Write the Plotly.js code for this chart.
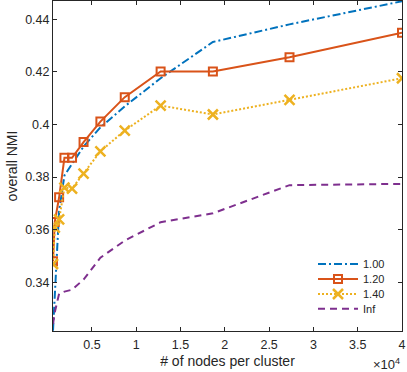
<!DOCTYPE html>
<html>
<head>
<meta charset="utf-8">
<script src="https://cdn.plot.ly/plotly-3.0.1.min.js"></script>
<style>
  html, body { margin:0; padding:0; background:#fff; }
  #chart { width:407px; height:372px; }
</style>
</head>
<body>
<div id="chart"></div>
<script>
// ============ DATA ============
const NODES = [600, 800, 1290, 1890, 2750, 4050, 5950, 8700, 12750, 18650, 27300, 40000];
const NMI_100 = [0.3215, 0.3337, 0.3672, 0.3806, 0.3851, 0.3916, 0.3989, 0.4069, 0.4176, 0.4314, 0.4381, 0.4469];
const NMI_120 = [0.3479, 0.3629, 0.3723, 0.3873, 0.3873, 0.3933, 0.4011, 0.4104, 0.4202, 0.4202, 0.4256, 0.4349];
const NMI_140 = [0.3469, 0.3607, 0.3639, 0.3760, 0.3756, 0.3813, 0.3898, 0.3977, 0.4072, 0.4038, 0.4094, 0.4176];
const NMI_INF = [0.3240, 0.3285, 0.3356, 0.3364, 0.3371, 0.3410, 0.3493, 0.3558, 0.3628, 0.3662, 0.3769, 0.3774];

const SERIES_NAMES = ['1.00', '1.20', '1.40', 'Inf'];
const X_TICKS = [5000, 10000, 15000, 20000, 25000, 30000, 35000, 40000];
const X_TICK_TEXT = ['0.5', '1', '1.5', '2', '2.5', '3', '3.5', '4'];
const Y_TICKS = [0.34, 0.36, 0.38, 0.40, 0.42, 0.44];
const Y_TICK_TEXT = ['0.34', '0.36', '0.38', '0.4', '0.42', '0.44'];

const INK = '#262626';
const FONT = 'Liberation Sans, Arial, Helvetica, sans-serif';

const traces = [
  { x: NODES, y: NMI_100, name: SERIES_NAMES[0], type: 'scatter', mode: 'lines',
    line: { color: '#0072BD', width: 2, dash: '8px,3px,2px,3px' } },
  { x: NODES, y: NMI_120, name: SERIES_NAMES[1], type: 'scatter', mode: 'lines+markers',
    line: { color: '#D95319', width: 2 },
    marker: { symbol: 'square-open', size: 8, color: '#D95319', line: { width: 2 } } },
  { x: NODES, y: NMI_140, name: SERIES_NAMES[2], type: 'scatter', mode: 'lines+markers',
    line: { color: '#EDB120', width: 2, dash: '2px,2px' },
    marker: { symbol: 'x-thin-open', size: 10, color: '#EDB120', line: { width: 2.5, color: '#EDB120' } } },
  { x: NODES, y: NMI_INF, name: SERIES_NAMES[3], type: 'scatter', mode: 'lines',
    line: { color: '#7E2F8E', width: 2, dash: '7px,5px' } }
];

const axisBase = {
  showline: true, mirror: 'ticks', linecolor: INK, linewidth: 1,
  ticks: 'inside', ticklen: 4, tickcolor: INK, tickwidth: 1,
  showgrid: false, zeroline: false,
  tickfont: { family: FONT, size: 12.5, color: INK }
};

const layout = {
  width: 407, height: 372,
  margin: { l: 53, r: 5, t: 1, b: 41 },
  paper_bgcolor: '#fff', plot_bgcolor: '#fff',
  font: { family: FONT, size: 12, color: INK },
  showlegend: true,
  legend: {
    x: 0.745, xanchor: 'left', y: 0.1345, yanchor: 'middle',
    bgcolor: 'rgba(0,0,0,0)', borderwidth: 0, itemwidth: 40,
    font: { family: FONT, size: 11, color: INK }
  },
  xaxis: Object.assign({}, axisBase, {
    range: [600, 40000], tickvals: X_TICKS, ticktext: X_TICK_TEXT, ticklabelstandoff: 2,
    title: { text: '# of nodes per cluster', font: { family: FONT, size: 14, color: INK }, standoff: 5 }
  }),
  yaxis: Object.assign({}, axisBase, {
    range: [0.3214, 0.447], tickvals: Y_TICKS, ticktext: Y_TICK_TEXT,
    title: { text: 'overall NMI', font: { family: FONT, size: 14, color: INK }, standoff: 4 }
  }),
  annotations: [{
    xref: 'paper', yref: 'paper', x: 1.0, y: -0.1, xanchor: 'right', yanchor: 'middle',
    text: '×10<sup>4</sup>', showarrow: false, font: { family: FONT, size: 13, color: INK }
  }]
};

// legend rows sit closer together in the original (about 15px apart)
const LEGEND_ROW_Y = [264, 279, 294, 308.8];
const TF_RE = /translate\(\s*([-\d.]+)[ ,]+([-\d.]+)\s*\)/;

function tightenLegend(gd){
  const leg = gd.querySelector('.legend');
  const m = leg && TF_RE.exec(leg.getAttribute('transform') || '');
  if(!m) return;
  const ly = parseFloat(m[2]);
  gd.querySelectorAll('.legend .traces').forEach((el, i) => {
    const t = TF_RE.exec(el.getAttribute('transform') || '');
    if(!t || i >= LEGEND_ROW_Y.length) return;
    el.setAttribute('transform', 'translate(' + t[1] + ',' + (LEGEND_ROW_Y[i] - ly) + ')');
  });
}

const gd = document.getElementById('chart');
Plotly.newPlot(gd, traces, layout, { displayModeBar: false, staticPlot: true }).then(() => {
  tightenLegend(gd);
});
</script>
</body>
</html>
